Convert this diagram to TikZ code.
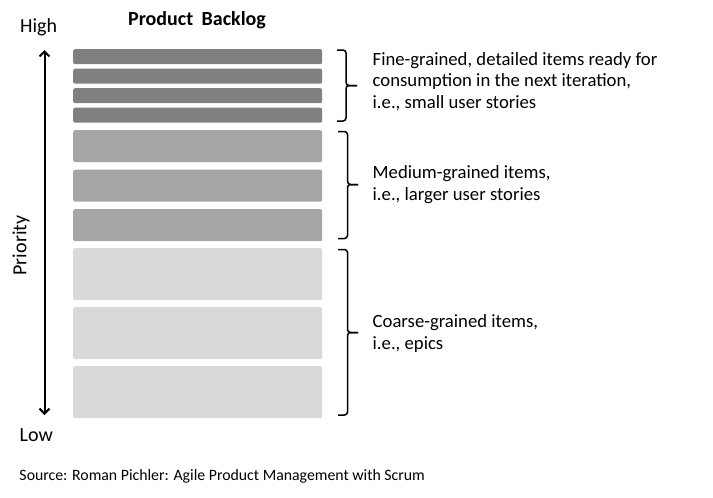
\documentclass[tikz,border=0pt]{standalone}
\usepackage{fontspec}
\setmainfont{Carlito}
\usetikzlibrary{arrows.meta}
\definecolor{darkbar}{HTML}{808080}
\definecolor{midbar}{HTML}{A6A6A6}
\definecolor{lightbar}{HTML}{D9D9D9}
\tikzset{
  bar/.style={draw=none, rounded corners=2pt, minimum width=249pt, inner sep=0pt, anchor=north west},
  txt/.style={anchor=base west, inner sep=0pt, font=\fontsize{18.7}{21.5}\selectfont},
  bigtxt/.style={anchor=base west, inner sep=0pt, font=\fontsize{20}{24}\selectfont},
  brace/.style={line width=1.5pt, rounded corners=3pt},
}
\begin{document}
\begin{tikzpicture}[x=1pt,y=-1pt]
\useasboundingbox (0,0) rectangle (713,498);
% bars
\node[bar, fill=darkbar, minimum height=15pt] (d1) at (73,49) {};
\node[bar, fill=darkbar, minimum height=15pt] (d2) at (73,68.5) {};
\node[bar, fill=darkbar, minimum height=15pt] (d3) at (73,88) {};
\node[bar, fill=darkbar, minimum height=15pt] (d4) at (73,107.5) {};
\node[bar, fill=midbar, minimum height=32pt] (m1) at (73,130) {};
\node[bar, fill=midbar, minimum height=32pt] (m2) at (73,169.5) {};
\node[bar, fill=midbar, minimum height=32pt] (m3) at (73,209) {};
\node[bar, fill=lightbar, minimum height=52pt] (l1) at (73,248) {};
\node[bar, fill=lightbar, minimum height=52pt] (l2) at (73,307) {};
\node[bar, fill=lightbar, minimum height=52pt] (l3) at (73,366) {};
% titles
\node[anchor=base west, inner sep=0pt, font=\fontsize{20}{24}\selectfont\bfseries] (title) at (128,25) {Product\hspace{4pt} Backlog};
\node[bigtxt] (high) at (20,32) {High};
\node[bigtxt] (low) at (19.5,441.5) {Low};
\node[anchor=base, inner sep=0pt, rotate=90, font=\fontsize{20}{24}\selectfont] (prio) at (26.5,245.5) {Priority};
% priority arrow
\coordinate (atop) at (44.5,50);
\coordinate (abot) at (44.5,415);
\draw[{Straight Barb[length=5pt,width=10pt,line width=2pt]}-{Straight Barb[length=5pt,width=10pt,line width=2pt]}, line width=2pt] (atop) -- (abot);
% braces
\coordinate (b1t) at (337,50);   \coordinate (b1m) at (346,85.5);  \coordinate (b1b) at (337,121);  \coordinate (b1p) at (357,85.5);
\coordinate (b2t) at (338,131.5); \coordinate (b2m) at (347.5,184.5); \coordinate (b2b) at (338,238.5); \coordinate (b2p) at (358,184.5);
\coordinate (b3t) at (338,249.5); \coordinate (b3m) at (347.5,332.5); \coordinate (b3b) at (338,415); \coordinate (b3p) at (358,332.5);
\draw[brace] (b1t) -| (b1m) -- (b1p);
\draw[brace] (b1p) -- (b1m) |- (b1b);
\draw[brace] (b2t) -| (b2m) -- (b2p);
\draw[brace] (b2p) -- (b2m) |- (b2b);
\draw[brace] (b3t) -| (b3m) -- (b3p);
\draw[brace] (b3p) -- (b3m) |- (b3b);
% descriptions
\node[txt] (f1) at (372.5,65) {Fine-grained, detailed items ready for};
\node[txt] (f2) at (372.5,86.5) {consumption in the next iteration,};
\node[txt] (f3) at (372.5,108) {i.e., small user stories};
\node[txt] (md1) at (372.5,178.3) {Medium-grained items,};
\node[txt] (md2) at (372.5,200) {i.e., larger user stories};
\node[txt] (c1) at (372.5,327.7) {Coarse-grained items,};
\node[txt] (c2) at (372.5,349.3) {i.e., epics};
% source
\node[anchor=base west, inner sep=0pt, font=\fontsize{15.8}{18}\selectfont] (src) at (19.3,480) {Source: Roman Pichler: Agile Product Management with Scrum};
\end{tikzpicture}
\end{document}
